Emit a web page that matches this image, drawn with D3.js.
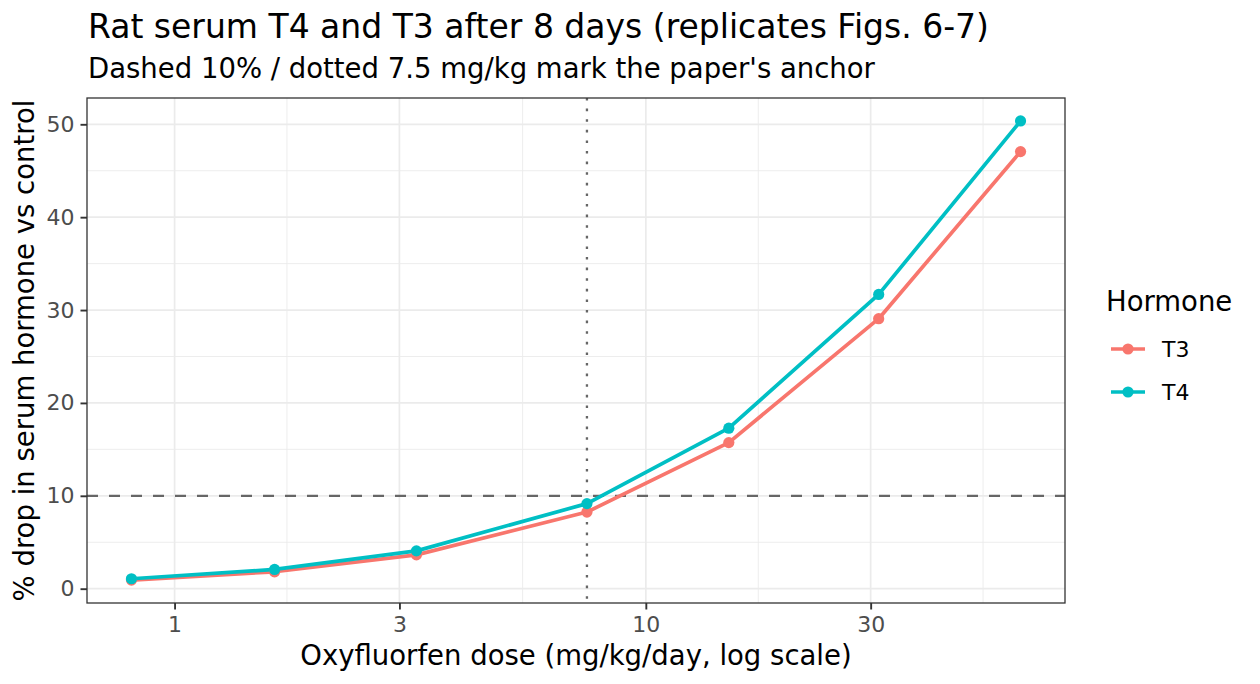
<!DOCTYPE html>
<html><head><meta charset="utf-8">
<script src="https://cdn.jsdelivr.net/npm/d3@7"></script>
<style>
body{margin:0;background:#fff;}
text{font-family:"DejaVu Sans",sans-serif;}
</style></head>
<body>
<svg id="chart" width="1260" height="684"></svg>
<script>
const doses = [0.81, 1.63, 3.26, 7.5, 15, 31.2, 62.4];
const t3 = [0.93, 1.82, 3.64, 8.25, 15.73, 29.07, 47.06];
const t4 = [1.07, 2.07, 4.07, 9.16, 17.28, 31.68, 50.36];
const seriesNames = ["T3", "T4"];
const seriesColors = ["#F8766D", "#00BFC4"];
const xTicks = [1, 3, 10, 30];
const xMinor = [1.732, 5.477, 17.32, 51.96];
const yTicks = [0, 10, 20, 30, 40, 50];
const yMinor = [5, 15, 25, 35, 45];
const refY = 10, refX = 7.5;

const svg = d3.select("#chart");
const L = 87, R = 1065, T = 98, B = 603;

const lx = doses.map(Math.log10);
const lmin = d3.min(lx), lmax = d3.max(lx), lr = lmax - lmin;
const x = d3.scaleLog().domain([Math.pow(10, lmin - 0.05*lr), Math.pow(10, lmax + 0.05*lr)]).range([L, R]);
const allY = t3.concat(t4, [refY]);
const ymin = d3.min(allY), ymax = d3.max(allY), yr = ymax - ymin;
const y = d3.scaleLinear().domain([ymin - 0.05*yr, ymax + 0.05*yr]).range([B, T]);

// grid
const g = svg.append("g");
g.selectAll(".ymin").data(yMinor).join("line").attr("x1", L).attr("x2", R).attr("y1", d=>y(d)).attr("y2", d=>y(d)).attr("stroke", "#EBEBEB").attr("stroke-width", 0.9);
g.selectAll(".xmin").data(xMinor).join("line").attr("y1", T).attr("y2", B).attr("x1", d=>x(d)).attr("x2", d=>x(d)).attr("stroke", "#EBEBEB").attr("stroke-width", 0.9);
g.selectAll(".ymaj").data(yTicks).join("line").attr("x1", L).attr("x2", R).attr("y1", d=>y(d)).attr("y2", d=>y(d)).attr("stroke", "#EBEBEB").attr("stroke-width", 1.7);
g.selectAll(".xmaj").data(xTicks).join("line").attr("y1", T).attr("y2", B).attr("x1", d=>x(d)).attr("x2", d=>x(d)).attr("stroke", "#EBEBEB").attr("stroke-width", 1.7);

// reference lines
svg.append("line").attr("x1", L).attr("x2", R).attr("y1", y(refY)).attr("y2", y(refY))
  .attr("stroke", "#666666").attr("stroke-width", 2.3).attr("stroke-dasharray", "11,11");
svg.append("line").attr("x1", x(refX)).attr("x2", x(refX)).attr("y1", T).attr("y2", B)
  .attr("stroke", "#666666").attr("stroke-width", 2.3).attr("stroke-dasharray", "2.6,8");

// series
const series = [t3, t4];
const line = d3.line().x((d,i)=>x(doses[i])).y(d=>y(d));
series.forEach((s, k) => {
  svg.append("path").attr("d", line(s)).attr("fill", "none").attr("stroke", seriesColors[k]).attr("stroke-width", 3.7).attr("stroke-linejoin", "round");
});
series.forEach((s, k) => {
  svg.append("g").selectAll("circle").data(s).join("circle")
    .attr("cx", (d,i)=>x(doses[i])).attr("cy", d=>y(d)).attr("r", 5.6).attr("fill", seriesColors[k]);
});

// panel border
svg.append("rect").attr("x", L).attr("y", T).attr("width", R-L).attr("height", B-T).attr("fill", "none").attr("stroke", "#333333").attr("stroke-width", 1.3);

// axes
const xAxis = svg.append("g").attr("transform", `translate(0,${B})`)
  .call(d3.axisBottom(x).tickValues(xTicks).tickFormat(d3.format("d")).tickSize(6.5).tickPadding(7));
const yAxis = svg.append("g").attr("transform", `translate(${L},0)`)
  .call(d3.axisLeft(y).tickValues(yTicks).tickFormat(d3.format("d")).tickSize(6.5).tickPadding(6));
[xAxis, yAxis].forEach(a => {
  a.select(".domain").remove();
  a.selectAll(".tick line").attr("stroke", "#333333").attr("stroke-width", 1.9);
  a.selectAll(".tick text").attr("fill", "#4D4D4D").style("font-size", "22px").style("font-family", "DejaVu Sans");
});

// titles
svg.append("text").attr("x", 88).attr("y", 38).text("Rat serum T4 and T3 after 8 days (replicates Figs. 6-7)").style("font-size", "33px").attr("fill", "#000");
svg.append("text").attr("x", 88).attr("y", 78).text("Dashed 10% / dotted 7.5 mg/kg mark the paper's anchor").style("font-size", "27.5px").attr("fill", "#000");
svg.append("text").attr("x", (L+R)/2).attr("y", 665).attr("text-anchor", "middle").text("Oxyfluorfen dose (mg/kg/day, log scale)").style("font-size", "27.5px");
svg.append("text").attr("transform", `translate(34,${(T+B)/2}) rotate(-90)`).attr("text-anchor", "middle").text("% drop in serum hormone vs control").style("font-size", "27.5px");

// legend
const lg = svg.append("g");
lg.append("text").attr("x", 1106).attr("y", 311).text("Hormone").style("font-size", "27.5px");
seriesNames.forEach((n, k) => {
  const yy = 349 + k*43;
  lg.append("line").attr("x1", 1111).attr("x2", 1145).attr("y1", yy).attr("y2", yy).attr("stroke", seriesColors[k]).attr("stroke-width", 3.7);
  lg.append("circle").attr("cx", 1128).attr("cy", yy).attr("r", 5.6).attr("fill", seriesColors[k]);
  lg.append("text").attr("x", 1162).attr("y", yy + 8).text(n).style("font-size", "22px").attr("fill", "#000");
});
</script>
</body></html>
